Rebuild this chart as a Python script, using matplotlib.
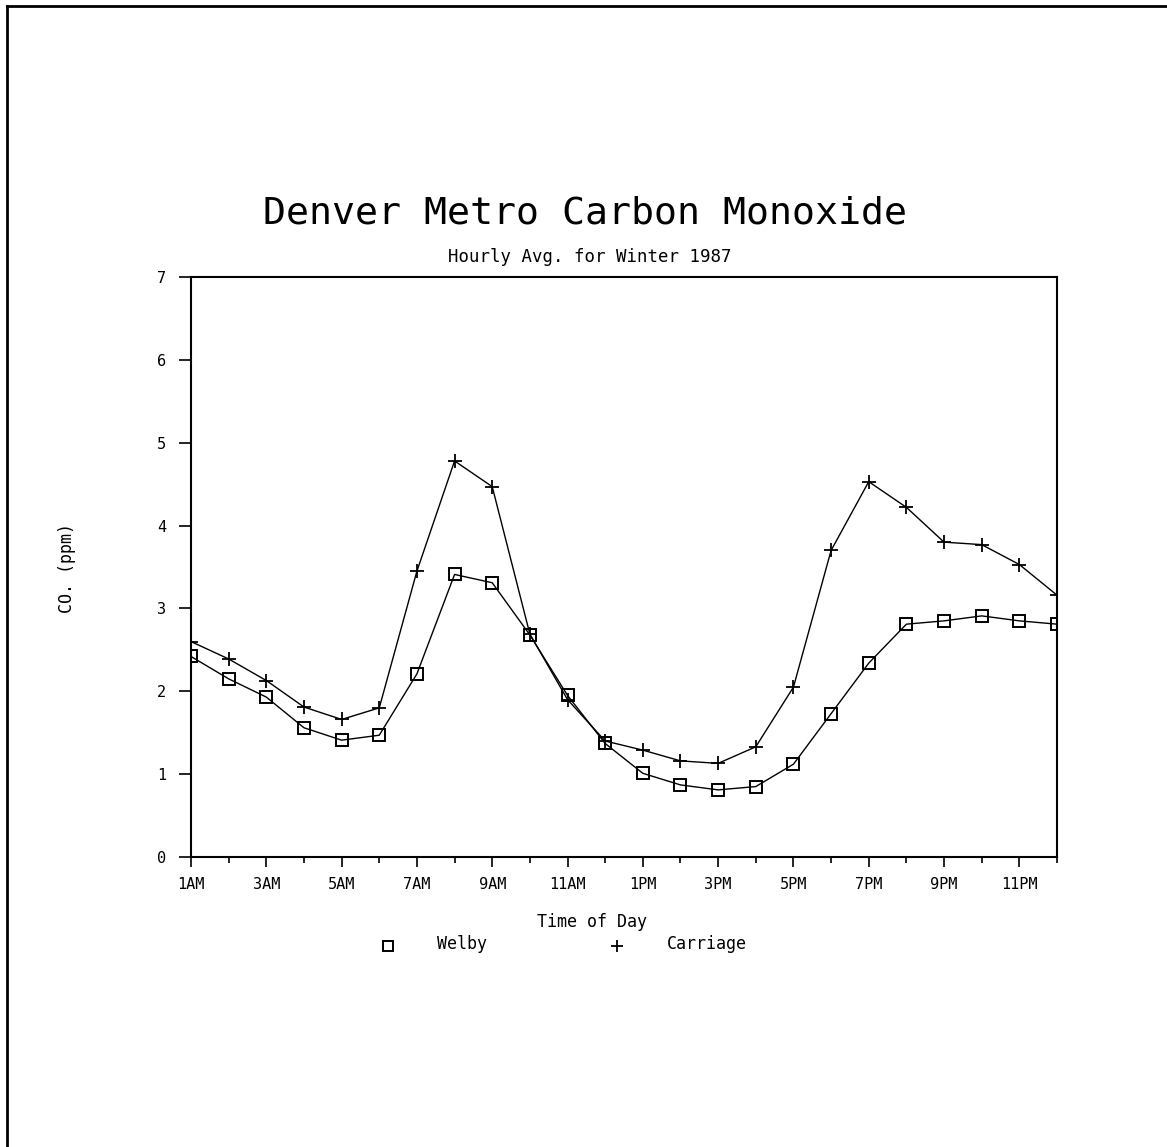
import matplotlib
matplotlib.use("Agg")
import matplotlib.pyplot as plt
from matplotlib.lines import Line2D
from matplotlib.ticker import FixedLocator

# Hour of day (1 = 1AM ... 24 = midnight)
hours = list(range(1, 25))

# Hourly average CO concentration (ppm), winter 1987
welby = [2.42, 2.15, 1.93, 1.56, 1.41, 1.47, 2.21, 3.41, 3.31, 2.68, 1.95, 1.37,
         1.01, 0.87, 0.81, 0.85, 1.12, 1.73, 2.34, 2.81, 2.85, 2.91, 2.85, 2.81]
carriage = [2.60, 2.39, 2.13, 1.81, 1.66, 1.80, 3.45, 4.78, 4.47, 2.69, 1.90, 1.40,
            1.29, 1.16, 1.13, 1.33, 2.05, 3.70, 4.53, 4.22, 3.80, 3.77, 3.53, 3.16]

tick_hours = [1, 3, 5, 7, 9, 11, 13, 15, 17, 19, 21, 23]
tick_labels = ["1AM", "3AM", "5AM", "7AM", "9AM", "11AM",
               "1PM", "3PM", "5PM", "7PM", "9PM", "11PM"]
minor_hours = [2, 4, 6, 8, 10, 12, 14, 16, 18, 20, 22, 24]
y_ticks = [0, 1, 2, 3, 4, 5, 6, 7]

FONT = "DejaVu Sans Mono"
plt.rcParams["font.family"] = FONT

W, H = 1167, 1147
fig = plt.figure(figsize=(W / 100, H / 100), dpi=100)
fig.patch.set_facecolor("white")

ax = fig.add_axes([191 / W, 1 - 857 / H, (1057 - 191) / W, (857 - 277) / H])

ax.plot(hours, welby, color="black", lw=1.0, marker="s", ms=8,
        mfc="none", mec="black", mew=1.4)
ax.plot(hours, carriage, color="black", lw=1.0, marker="+", ms=9.5,
        mec="black", mew=1.3)

ax.set_xlim(1, 24)
ax.set_ylim(0, 7)

ax.xaxis.set_major_locator(FixedLocator(tick_hours))
ax.xaxis.set_minor_locator(FixedLocator(minor_hours))
ax.set_xticklabels(tick_labels)
ax.set_yticks(y_ticks)
ax.set_yticklabels([str(v) for v in y_ticks])

ax.tick_params(axis="x", which="major", direction="out", length=7.5, width=1.2,
               pad=7, labelsize=11)
ax.tick_params(axis="x", which="minor", direction="out", length=4, width=1.2)
ax.tick_params(axis="y", which="major", direction="out", length=9, width=1.2,
               pad=9, labelsize=11)

for side in ("left", "right", "top", "bottom"):
    ax.spines[side].set_linewidth(1.5)
    ax.spines[side].set_color("black")

# Titles, axis labels and key, placed in figure pixel coordinates
def ftext(x, y, s, **kw):
    fig.text(x / W, 1 - y / H, s, ha="center", va="center", family=FONT, **kw)

ftext(585, 213, "Denver Metro Carbon Monoxide", fontsize=27.5)
ftext(590, 257, "Hourly Avg. for Winter 1987", fontsize=12.5)
ftext(592, 922, "Time of Day", fontsize=12)
ftext(67, 568, "CO. (ppm)", fontsize=12, rotation=90)

# Key below the axis label
fig.add_artist(Line2D([388 / W], [1 - 946 / H], transform=fig.transFigure,
                      marker="s", ms=7, mfc="none", mec="black", mew=1.4, lw=0))
ftext(462, 944, "Welby", fontsize=12)
fig.add_artist(Line2D([617 / W], [1 - 946 / H], transform=fig.transFigure,
                      marker="+", ms=9, mec="black", mew=1.3, lw=0))
ftext(707, 944, "Carriage", fontsize=12)

# Page frame along the top and left edges
fig.add_artist(Line2D([7 / W, 1.0], [1 - 6 / H, 1 - 6 / H],
                      transform=fig.transFigure, color="black", lw=2.0))
fig.add_artist(Line2D([7 / W, 7 / W], [0.0, 1 - 6 / H],
                      transform=fig.transFigure, color="black", lw=2.0))

fig.savefig("out.png", dpi=100, facecolor="white")
